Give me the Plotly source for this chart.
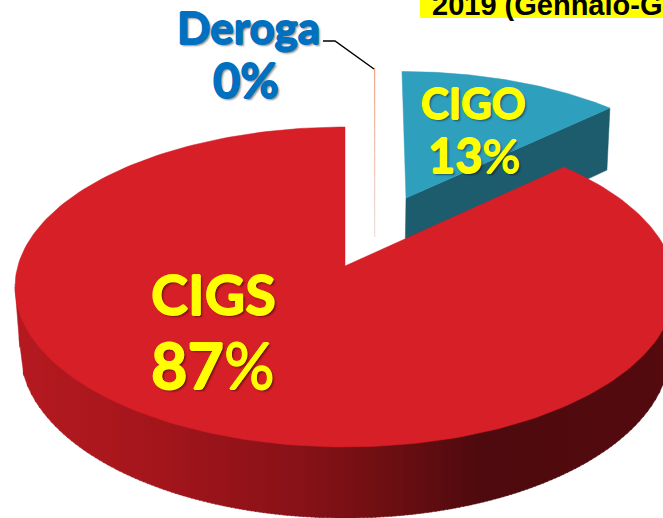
import math
import plotly.graph_objects as go

# ---- data ----
categories = ["CIGS", "CIGO", "Deroga"]
shares = [87, 13, 0]
header_text = "2019 (Gennaio-G"

# ---- colours ----
RED_TOP = "#d71f27"
BLUE_TOP = "#2e9fbd"
BLUE_SIDE = "#1c5c6c"
YELLOW = "#ffff00"
LABEL_BLUE = "#0070c0"
side_stop_x = [15, 150, 300, 400, 480, 680]
side_stop_rgb = [(182, 26, 33), (165, 22, 28), (135, 18, 24), (105, 14, 18), (78, 10, 14), (85, 11, 15)]

# ---- pie geometry (pixel-like axis units) ----
W, H = 663, 518
CX, CY, RX, RY = 345, 287, 330, 160      # top face ellipse
BCY, BRX, BRY = 350, 325, 168            # bottom rim ellipse
A = 21 / 160                             # perspective shift of centre
START = 90.0


def project(theta_deg):
    """Point on the perspective rim for a pie angle."""
    t = math.radians(theta_deg)
    x, y = math.cos(t), math.sin(t)
    d = 1 + A * y
    u = x * math.sqrt(1 - A * A) / d
    v = (y + A) / d
    return CX + RX * u, CY - RY * v


APEX = (CX, CY - RY * A)


def wedge(a0, a1, n=120):
    pts = [APEX]
    for i in range(n + 1):
        pts.append(project(a0 + (a1 - a0) * i / n))
    pts.append(APEX)
    return pts


def exploded(pts):
    """Move/scale a wedge to its pulled-out position."""
    out = []
    for x, y in pts:
        dx, dy = x - APEX[0], y - APEX[1]
        out.append((406 + 0.945 * dx + 0.029 * dy, 198 + 0.91 * dy))
    return out


def poly(pts, color):
    return go.Scatter(x=[p[0] for p in pts], y=[p[1] for p in pts], mode="lines",
                      fill="toself", fillcolor=color, line=dict(color=color, width=0.5),
                      hoverinfo="skip", showlegend=False)


def side_color(x):
    for i in range(len(side_stop_x) - 1):
        if x <= side_stop_x[i + 1]:
            f = (x - side_stop_x[i]) / (side_stop_x[i + 1] - side_stop_x[i])
            c = [side_stop_rgb[i][k] + f * (side_stop_rgb[i + 1][k] - side_stop_rgb[i][k]) for k in range(3)]
            return "rgb(%d,%d,%d)" % tuple(c)
    return "rgb(%d,%d,%d)" % side_stop_rgb[-1]


def top_low(x):
    return CY + RY * math.sqrt(max(0, 1 - ((x - CX) / RX) ** 2))


def bottom_low(x):
    left = CX - BRX
    if x < left:
        return CY + (x - (CX - RX)) / (left - (CX - RX)) * (BCY - CY)
    return BCY + BRY * math.sqrt(max(0, 1 - ((x - CX) / BRX) ** 2))


fig = go.Figure()

sweeps = [s / sum(shares) * 360 for s in shares]

# CIGO wedge: side then top
cigo_a1 = START + sweeps[0]
cigo_a0 = cigo_a1 + sweeps[1]
cigo_top = exploded(wedge(cigo_a0, cigo_a1, 60))
corner_r = cigo_top[-2]
ap = cigo_top[0]
fig.add_trace(poly([ap, corner_r, (corner_r[0] - 3, corner_r[1] + 62), (ap[0] - 1, ap[1] + 66), ap], BLUE_SIDE))
fig.add_trace(poly(cigo_top, BLUE_TOP))

# Deroga: a zero-width slice, drawn as a hairline fading downward
dx = 374.6
seg = 14
for i in range(seg):
    f = i / (seg - 1)
    c = (int(246 - 10 * f), int(168 + 55 * f), int(140 + 80 * f))
    y0 = 68 + (237 - 68) * i / seg
    y1 = 68 + (237 - 68) * (i + 1) / seg
    fig.add_trace(go.Scatter(x=[dx, dx], y=[y0, y1], mode="lines",
                             line=dict(color="rgb(%d,%d,%d)" % c, width=1.3),
                             hoverinfo="skip", showlegend=False))

# Leader line
fig.add_trace(go.Scatter(x=[323, 335, 374], y=[41, 41, 69], mode="lines",
                         line=dict(color="black", width=1.5), hoverinfo="skip", showlegend=False))

# CIGS side wall as vertical strips
strip = 4
x = CX - RX
while x < W + strip:
    x1 = x + strip + 0.8
    fig.add_trace(poly([(x, top_low(x) - 3), (x1, top_low(x1) - 3), (x1, bottom_low(x1)), (x, bottom_low(x))],
                       side_color(x)))
    x += strip

# CIGS top
fig.add_trace(poly(wedge(START, START + sweeps[0], 240), RED_TOP))

FONT = "Lato"
DROP = "2px 2px 2px rgba(0,0,0,0.45)"


def heavy(color):
    return f"0.7px 0 0 {color}, -0.7px 0 0 {color}, 0 0.7px 0 {color}, 0 -0.7px 0 {color}, {DROP}"


def label(x, y, text, size, color, stroke=True):
    return dict(x=x, y=y, xref="x", yref="y", text=text, showarrow=False, xanchor="center", yanchor="middle",
                font=dict(family=FONT, size=size, color=color, shadow=heavy(color) if stroke else DROP))


annotations = [
    label(213, 293, f"<b>{categories[0]}</b>", 56, YELLOW),
    label(213, 364, f"<b>{shares[0]}</b>%", 63, YELLOW),
    label(473, 103, f"<b>{categories[1]}</b>", 42, YELLOW),
    label(474, 155, f"<b>{shares[1]}</b>%", 47, YELLOW),
    label(248, 27, f"<b>{categories[2]}</b>", 44, LABEL_BLUE),
    label(246, 80, f"<b>{shares[2]}%</b>", 47, LABEL_BLUE),
    dict(x=430, y=23, xref="x", yref="y", text=f"<b>{header_text}</b>", showarrow=False,
         xanchor="left", yanchor="bottom", align="left",
         font=dict(family="Liberation Sans", size=29, color="black")),
]

fig.update_layout(
    width=W, height=H, margin=dict(l=0, r=0, t=0, b=0),
    paper_bgcolor="white", plot_bgcolor="white",
    xaxis=dict(range=[0, W], visible=False, fixedrange=True),
    yaxis=dict(range=[H, 0], visible=False, fixedrange=True),
    annotations=annotations,
    shapes=[dict(type="rect", xref="x", yref="y", x0=420, x1=W, y0=0, y1=18,
                 fillcolor=YELLOW, line=dict(width=0), layer="below")],
)
fig.write_html("out.html", config=dict(displayModeBar=False),
               post_script="document.body.style.margin='0';document.documentElement.style.overflow='hidden';")
